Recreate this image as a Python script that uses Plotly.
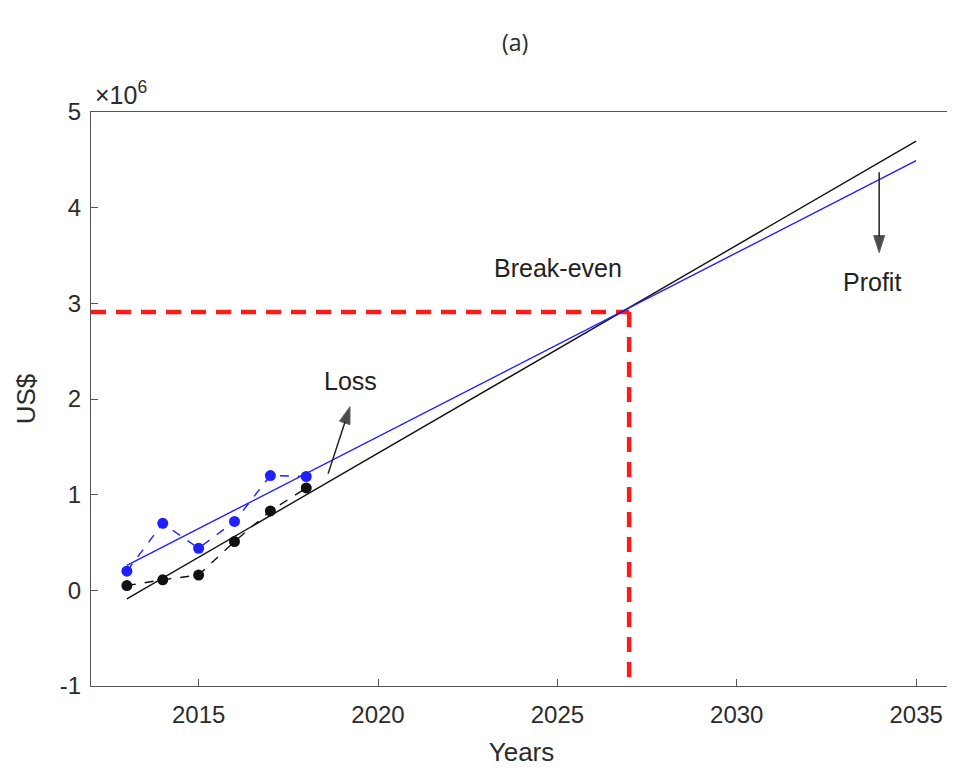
import numpy as np
import plotly.graph_objects as go

years = [2013, 2014, 2015, 2016, 2017, 2018]
blue_vals = [0.20e6, 0.70e6, 0.44e6, 0.72e6, 1.20e6, 1.19e6]
black_vals = [0.05e6, 0.11e6, 0.16e6, 0.51e6, 0.83e6, 1.07e6]
fit_years = [2013, 2035]
break_even_year = 2027
break_even_value = 2.91e6
x_ticks = [2015, 2020, 2025, 2030, 2035]
y_ticks = [-1, 0, 1, 2, 3, 4, 5]
y_tick_labels = ["-1", "0", "1", "2", "3", "4", "5"]
SCALE = 1e6

BLUE = "#1f1fff"
BLACK = "#111111"
RED = "#ff1a1a"
TXT = "#2b2b2b"
FONT = "Liberation Sans"

yb = np.array(blue_vals) / SCALE
yk = np.array(black_vals) / SCALE
pb = np.polyfit(years, yb, 1)
pk = np.polyfit(years, yk, 1)
fx = np.array(fit_years, dtype=float)

fig = go.Figure()
# red dashed break-even guides
fig.add_trace(go.Scatter(x=[2012, break_even_year], y=[break_even_value / SCALE] * 2,
                         mode="lines", line=dict(color=RED, width=4.5, dash="15px,10px"),
                         showlegend=False, hoverinfo="skip"))
fig.add_trace(go.Scatter(x=[break_even_year, break_even_year], y=[break_even_value / SCALE, -1],
                         mode="lines", line=dict(color=RED, width=4.5, dash="15px,10px"),
                         showlegend=False, hoverinfo="skip"))
# fitted lines
fig.add_trace(go.Scatter(x=fx, y=np.polyval(pk, fx), mode="lines",
                         line=dict(color=BLACK, width=1.4), showlegend=False))
fig.add_trace(go.Scatter(x=fx, y=np.polyval(pb, fx), mode="lines",
                         line=dict(color=BLUE, width=1.4), showlegend=False))
# data with dashed connectors
fig.add_trace(go.Scatter(x=years, y=yb, mode="lines+markers",
                         line=dict(color=BLUE, width=1.4, dash="9px,9px"),
                         marker=dict(color=BLUE, size=11), showlegend=False))
fig.add_trace(go.Scatter(x=years, y=yk, mode="lines+markers",
                         line=dict(color=BLACK, width=1.4, dash="9px,9px"),
                         marker=dict(color=BLACK, size=11), showlegend=False))

# arrows (tail -> head)
loss_arrow_x = [2018.61, 2019.22]
loss_arrow_y = [1.22, 1.92]
profit_arrow_x = [2033.97, 2033.97]
profit_arrow_y = [4.37, 3.53]
for ax_, ay_ in [(loss_arrow_x, loss_arrow_y), (profit_arrow_x, profit_arrow_y)]:
    fig.add_trace(go.Scatter(x=ax_, y=ay_, mode="lines+markers",
                             line=dict(color="#222222", width=1.5),
                             marker=dict(symbol=["circle", "arrow"], size=[0, 18],
                                         angleref="previous", color="#000000"),
                             showlegend=False, hoverinfo="skip"))

axis_common = dict(showline=True, linecolor="#555555", linewidth=1.2, mirror=True,
                   ticks="inside", ticklen=7, tickcolor="#555555", showgrid=False,
                   zeroline=False, automargin=False,
                   tickfont=dict(family=FONT, size=24, color=TXT))

# page pixel -> paper coordinates (plot area spans x 91..952, y 112..686 on the page)
def px(x):
    return (x - 91) / 861
def py(y):
    return (686 - y) / 574

fig.update_layout(
    width=947, height=763,
    margin=dict(l=83, r=3, t=104, b=85),
    plot_bgcolor="white", paper_bgcolor="white",
    xaxis=dict(range=[2012, 2036], tickvals=x_ticks, ticklabelstandoff=7,
               title=dict(text="Years", standoff=15, font=dict(family=FONT, size=26, color=TXT)),
               **axis_common),
    yaxis=dict(range=[-1, 5], tickvals=y_ticks, ticktext=y_tick_labels, ticklabelstandoff=4,
               title=dict(text="US$", standoff=16, font=dict(family=FONT, size=26, color=TXT)),
               **axis_common),
    annotations=[
        dict(text="(a)", xref="paper", yref="paper", x=px(515), y=py(42),
             xanchor="center", yanchor="middle", showarrow=False,
             font=dict(family="Open Sans", size=23, color=TXT)),
        dict(text="×10<sup>6</sup>", xref="paper", yref="paper", x=px(93), y=1.0,
             xanchor="left", yanchor="bottom", showarrow=False, yshift=1,
             font=dict(family=FONT, size=25, color=TXT)),
        dict(text="Break-even", x=2025.02, y=3.37, showarrow=False,
             font=dict(family=FONT, size=25, color="#222222")),
        dict(text="Profit", x=2033.77, y=3.22, showarrow=False,
             font=dict(family=FONT, size=25, color="#222222")),
        dict(text="Loss", x=2019.22, y=2.19, showarrow=False,
             font=dict(family=FONT, size=25, color="#222222")),
    ],
)

fig.write_html("out.html")
